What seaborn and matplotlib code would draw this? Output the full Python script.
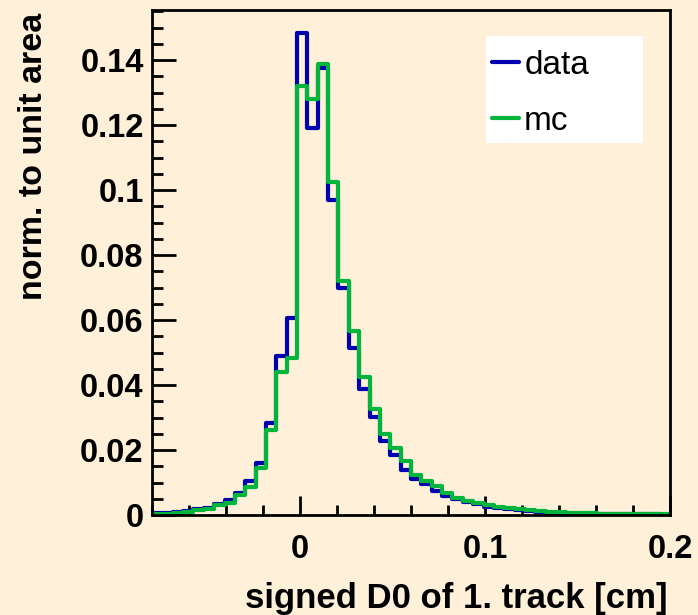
import numpy as np
import pandas as pd
import matplotlib
matplotlib.use('Agg')
import matplotlib.pyplot as plt
from matplotlib.lines import Line2D
from matplotlib.patches import Rectangle
from matplotlib.ticker import MultipleLocator
import seaborn as sns

# binning of the histogram: 50 bins from -0.08 to 0.2 cm
x_lo = -0.08
x_hi = 0.2
n_bins = 50

# bin contents (normalised to unit area)
data_vals = [0.0005, 0.0006, 0.0008, 0.0012, 0.0020, 0.0023, 0.0033, 0.0046, 0.0068, 0.0105,
             0.0159, 0.0282, 0.0490, 0.0607, 0.1482, 0.1192, 0.1374, 0.0969, 0.0697, 0.0515,
             0.0388, 0.0303, 0.0227, 0.0185, 0.0140, 0.0111, 0.0094, 0.0075, 0.0058, 0.0049,
             0.0039, 0.0033, 0.0026, 0.0022, 0.0018, 0.0015, 0.0011, 0.0009, 0.0007, 0.0006,
             0.0004, 0.0004, 0.0003, 0.0003, 0.0003, 0.0002, 0.0002, 0.0002, 0.0002, 0.0001]
mc_vals = [0.0003, 0.0004, 0.0006, 0.0010, 0.0014, 0.0018, 0.0031, 0.0036, 0.0062, 0.0087,
           0.0144, 0.0262, 0.0441, 0.0482, 0.1320, 0.1280, 0.1388, 0.1024, 0.0720, 0.0567,
           0.0426, 0.0325, 0.0249, 0.0205, 0.0165, 0.0123, 0.0105, 0.0089, 0.0067, 0.0053,
           0.0044, 0.0038, 0.0031, 0.0026, 0.0022, 0.0018, 0.0015, 0.0012, 0.0010, 0.0008,
           0.0006, 0.0005, 0.0005, 0.0004, 0.0004, 0.0003, 0.0003, 0.0003, 0.0002, 0.0002]

labels = ['data', 'mc']
colors = ['#0000b0', '#00b43c']

x_label = 'signed D0 of 1. track [cm]'
y_label = 'norm. to unit area'

edges = np.linspace(x_lo, x_hi, n_bins + 1)
centers = 0.5 * (edges[:-1] + edges[1:])

bg = '#fff0da'
sns.set_style('ticks')
plt.rcParams['font.family'] = ['Liberation Sans', 'DejaVu Sans']
plt.rcParams['text.color'] = 'black'
plt.rcParams['axes.labelcolor'] = 'black'
plt.rcParams['xtick.color'] = 'black'
plt.rcParams['ytick.color'] = 'black'

fig = plt.figure(figsize=(6.98, 6.15), dpi=100, facecolor=bg)
ax = fig.add_axes([152/698, 1 - 515/615, 518/698, 505/615])
ax.set_facecolor(bg)

for vals, lab, col in zip([data_vals, mc_vals], labels, colors):
    df = pd.DataFrame({'x': centers, 'w': vals})
    sns.histplot(data=df, x='x', weights='w', bins=n_bins, binrange=(x_lo, x_hi),
                 element='step', fill=False, color=col, linewidth=3, ax=ax)

ax.set_xlim(x_lo, x_hi)
ax.set_ylim(0, 0.1554)

ax.xaxis.set_major_locator(MultipleLocator(0.1))
ax.xaxis.set_minor_locator(MultipleLocator(0.02))
ax.yaxis.set_major_locator(MultipleLocator(0.02))
ax.yaxis.set_minor_locator(MultipleLocator(0.005))
ax.xaxis.set_major_formatter(plt.FuncFormatter(lambda v, p: '%g' % round(v, 3)))
ax.yaxis.set_major_formatter(plt.FuncFormatter(lambda v, p: '%g' % round(v, 3)))

ax.tick_params(axis='x', which='major', direction='in', length=14, width=2, pad=14,
               labelsize=23.5)
ax.tick_params(axis='x', which='minor', direction='in', length=7, width=2)
ax.tick_params(axis='y', which='major', direction='in', length=17, width=2, pad=6,
               labelsize=23.5)
ax.tick_params(axis='y', which='minor', direction='in', length=8, width=2)
for lab in ax.get_xticklabels() + ax.get_yticklabels():
    lab.set_fontweight('bold')

for s in ax.spines.values():
    s.set_visible(True)
    s.set_linewidth(2)
    s.set_color('black')

ax.set_xlabel(x_label, fontsize=25, fontweight='bold', ha='right')
ax.xaxis.set_label_coords(0.996, -0.132)
ax.set_ylabel(y_label, fontsize=24.5, fontweight='bold', ha='right', va='center')
ax.yaxis.set_label_coords(-0.229, 0.994)

# white legend box, as in the original
ax.add_patch(Rectangle((0.645, 0.737), 0.303, 0.212, transform=ax.transAxes,
                       facecolor='white', edgecolor='none', zorder=4))
handles = [Line2D([], [], color=c, linewidth=3) for c in colors]
leg = ax.legend(handles, labels, loc='upper left', bbox_to_anchor=(0.656, 0.921),
                fontsize=24, frameon=False, handlelength=0.82, handletextpad=0.15,
                labelspacing=0.74, borderpad=0, borderaxespad=0)
leg.set_zorder(5)

fig.savefig('out.png', dpi=100, facecolor=bg)
